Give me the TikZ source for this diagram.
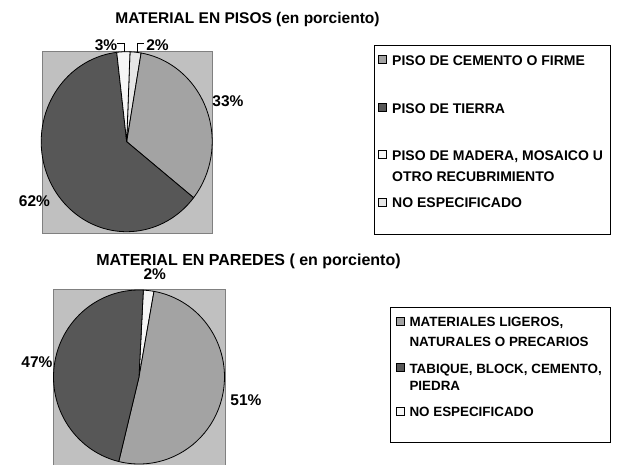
\documentclass[tikz,border=0pt]{standalone}
\usepackage{fontspec}
\setmainfont{Liberation Sans}
\definecolor{plotbg}{HTML}{C0C0C0}
\definecolor{plotedge}{HTML}{808080}
\definecolor{midgray}{HTML}{A3A3A3}
\definecolor{darkgray}{HTML}{575757}
\definecolor{whitish}{HTML}{F6F6F6}
\definecolor{lightgray}{HTML}{E6E6E6}
\newcommand\pieslice[6]{%
  \filldraw[slice, fill=#6] (#1) -- ++(#4:#2 and #3)
    arc[start angle=#4, end angle=#5, x radius=#2, y radius=#3] -- cycle;}
\begin{document}
\begin{tikzpicture}[x=1pt, y=-1pt,
  slice/.style={draw=black, line width=0.8pt, line join=round},
  plotarea/.style={fill=plotbg, draw=plotedge, line width=0.8pt},
  title/.style={font=\bfseries\fontsize{15.5}{18}\selectfont, inner sep=0pt, anchor=base},
  pct/.style={font=\bfseries\fontsize{15.5}{18}\selectfont, inner sep=0pt, anchor=base},
  legbox/.style={draw=black, line width=0.8pt, fill=white},
  legtext/.style={font=\bfseries\fontsize{14}{16}\selectfont, inner sep=0pt, anchor=base west},
  legtextb/.style={legtext, font=\bfseries\fontsize{13.4}{16}\selectfont},
  legmark/.style={draw=black, line width=0.5pt, minimum size=8pt, inner sep=0pt},
  leader/.style={draw=black, line width=0.6pt}]
\useasboundingbox (0,0) rectangle (628,464);
\fill[white] (0,0) rectangle (628,464);

% ---------- top chart ----------
\node[title] (t1) at (247.5,23.5) {MATERIAL EN PISOS (en porciento)};
\filldraw[plotarea] (42,51.5) rectangle (212.5,233.5);
\coordinate (c1) at (126.7,141.7);
\pieslice{c1}{85.5}{90}{-87.8}{-80.3}{lightgray}
\pieslice{c1}{85.5}{90}{-80.3}{38.5}{midgray}
\pieslice{c1}{85.5}{90}{38.5}{263.3}{darkgray}
\pieslice{c1}{85.5}{90}{263.3}{272.2}{whitish}

\node[pct] (p3) at (106,50) {3\%};
\node[pct] (p2) at (157.5,50) {2\%};
\node[pct] (p33) at (228,106.5) {33\%};
\node[pct] (p62) at (34.5,206) {62\%};
\coordinate (l3) at (124.2,51.8);
\coordinate (l2) at (136.8,51.8);
\coordinate (l3a) at (117,43.5);
\coordinate (l2a) at (144,43.5);
\draw[leader] (l3a) -| (l3);
\draw[leader] (l2a) -| (l2);

% legend 1
\filldraw[legbox] (374,45) rectangle (610,234);
\node[legmark, fill=midgray] (m11) at (382.5,59) {};
\node[legtext] (e11) at (392,65) {PISO DE CEMENTO O FIRME};
\node[legmark, fill=darkgray] (m12) at (382.5,107.5) {};
\node[legtext] (e12) at (392,113.3) {PISO DE TIERRA};
\node[legmark, fill=whitish] (m13) at (382.5,154) {};
\node[legtext] (e13) at (392,160) {PISO DE MADERA, MOSAICO U};
\node[legtext] (e13b) at (392,181) {OTRO RECUBRIMIENTO};
\node[legmark, fill=lightgray] (m14) at (382.5,202) {};
\node[legtext] (e14) at (392,207.7) {NO ESPECIFICADO};

% ---------- bottom chart ----------
\node[title, font=\bfseries\fontsize{16}{18}\selectfont] (t2) at (248.5,265) {MATERIAL EN PAREDES ( en porciento)};
\filldraw[plotarea] (53.3,289.3) rectangle (225.7,470);
\coordinate (c2) at (139,377);
\pieslice{c2}{85.5}{87}{-87.1}{-79.9}{whitish}
\pieslice{c2}{85.5}{87}{-79.9}{103.7}{midgray}
\pieslice{c2}{85.5}{87}{103.7}{272.9}{darkgray}

\node[pct] (q2) at (154.7,279.3) {2\%};
\node[pct] (q47) at (37,367.7) {47\%};
\node[pct] (q51) at (246,405.7) {51\%};

% legend 2
\filldraw[legbox] (390,307) rectangle (610,442);
\node[legmark, fill=midgray] (m21) at (400.5,321) {};
\node[legtextb] (e21) at (409.3,326.7) {MATERIALES LIGEROS,};
\node[legtextb] (e21b) at (409.3,346) {NATURALES O PRECARIOS};
\node[legmark, fill=darkgray] (m22) at (400.5,367.5) {};
\node[legtextb] (e22) at (409.3,373) {TABIQUE, BLOCK, CEMENTO,};
\node[legtextb] (e22b) at (409.3,390.7) {PIEDRA};
\node[legmark, fill=whitish] (m23) at (400.5,411) {};
\node[legtextb] (e23) at (409.3,416.7) {NO ESPECIFICADO};
\end{tikzpicture}
\end{document}
